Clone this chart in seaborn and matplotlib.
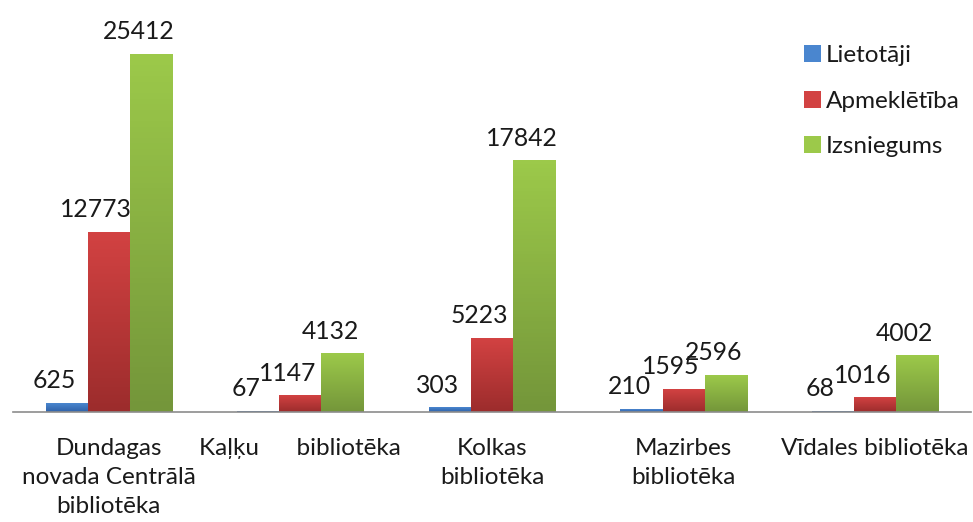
import numpy as np
import pandas as pd
import matplotlib
matplotlib.use("Agg")
import matplotlib.pyplot as plt
import matplotlib.colors as mcolors
from matplotlib.patches import Patch
import seaborn as sns

categories = ["Dundagas\nnovada Centrālā\nbibliotēka", "Kaļķu      bibliotēka",
              "Kolkas\nbibliotēka", "Mazirbes\nbibliotēka", "Vīdales bibliotēka"]
series = ["Lietotāji", "Apmeklētība", "Izsniegums"]
lietotaji = [625, 67, 303, 210, 68]
apmekletiba = [12773, 1147, 5223, 1595, 1016]
izsniegums = [25412, 4132, 17842, 2596, 4002]

rows = []
for s, vals in zip(series, [lietotaji, apmekletiba, izsniegums]):
    for c, v in zip(categories, vals):
        rows.append({"cat": c, "series": s, "value": v})
df = pd.DataFrame(rows)

top_cols = {"Lietotāji": "#4a86cf", "Apmeklētība": "#d24242", "Izsniegums": "#9cc94a"}
bot_cols = {"Lietotāji": "#2f62a8", "Apmeklētība": "#9c2c2c", "Izsniegums": "#74963a"}

sns.set_theme(style="white")
plt.rcParams['font.family'] = ['Lato', 'DejaVu Sans']

fig = plt.figure(figsize=(9.73, 5.22), dpi=100)
ax = fig.add_axes([13/973, (522-412)/522, (971-13)/973, 412/522])

sns.barplot(data=df, x="cat", y="value", hue="series", order=categories,
            hue_order=series, palette=top_cols, width=0.66, gap=0,
            ax=ax, legend=False, saturation=1, linewidth=0)

ymax = 25412 * 412 / 358
ax.set_ylim(0, ymax)
ax.set_xlim(-0.5, len(categories) - 0.5)

# gradient fill per bar
bars = [p for p in ax.patches]
for i, p in enumerate(bars):
    s = series[i // len(categories)]
    x0 = p.get_x(); w = p.get_width(); h = p.get_height()
    if h <= 0:
        continue
    c1 = np.array(mcolors.to_rgb(top_cols[s])); c2 = np.array(mcolors.to_rgb(bot_cols[s]))
    t = np.linspace(0, 1, 64)[:, None]
    grad = (c1 * (1 - t) + c2 * t)[:, None, :]
    ax.imshow(grad, extent=[x0, x0 + w, 0, h], aspect="auto", origin="upper", zorder=p.get_zorder() + 0.1)
    ax.annotate(f"{int(round(h))}", (x0 + w / 2, h), xytext=(-9, 8), textcoords="offset points",
                ha="center", va="bottom", fontsize=17.8, color="#1a1a1a")

ax.set_ylim(0, ymax)
ax.set_xlim(-0.5, len(categories) - 0.5)

for sp in ["top", "left", "right"]:
    ax.spines[sp].set_visible(False)
ax.spines["bottom"].set_color("#8c8c8c")
ax.spines["bottom"].set_linewidth(1.2)
ax.set_yticks([])
ax.set_xlabel(""); ax.set_ylabel("")
ax.set_xticks(range(len(categories)))
ax.set_xticklabels(categories, fontsize=17.5, color="#1a1a1a", linespacing=1.45, va="top")
ax.tick_params(axis="x", which="major", length=0, pad=19)
ax.set_xticks(np.arange(-0.5, len(categories), 1.0), minor=True)
ax.tick_params(axis="x", which="minor", length=9, color="#8c8c8c", width=1.2, direction="out")

handles = [Patch(facecolor=top_cols[s], edgecolor="none") for s in series]
leg = fig.legend(handles, series, loc="upper left", bbox_to_anchor=(794/973, 1 - 35/522),
                 frameon=False, fontsize=17.5, handlelength=0.7, handleheight=0.7,
                 handletextpad=0.2, labelspacing=1.02, borderaxespad=0)
for t in leg.get_texts():
    t.set_color("#1a1a1a")

fig.savefig("out.png", dpi=100)
